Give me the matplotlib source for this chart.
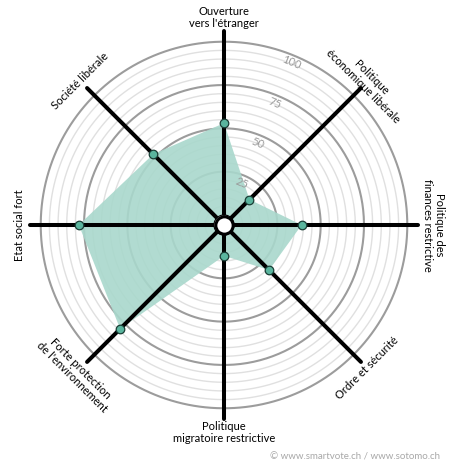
import numpy as np
import matplotlib
matplotlib.use("Agg")
import matplotlib.pyplot as plt

plt.rcParams['font.family'] = ['Lato', 'DejaVu Sans']

# axes of the smartspider, clockwise from the top
categories = [
    "Ouverture\nvers l'étranger",
    "Politique\néconomique libérale",
    "Politique des\nfinances restrictive",
    "Ordre et sécurité",
    "Politique\nmigratoire restrictive",
    "Forte protection\nde l'environnement",
    "Etat social fort",
    "Société libérale",
]
values = [53, 15, 39, 31, 12, 79, 78, 52]
tick_values = [25, 50, 75, 100]
tick_labels = ["25", "50", "75", "100"]

FILL = "#a9d8cc"
DOT = "#5ab59e"

n = len(categories)
theta = np.arange(n) * 2 * np.pi / n

fig = plt.figure(figsize=(4.5, 4.7), dpi=100)
# center at (224, 225) px, outer radius ~200 px
ax = fig.add_axes([0.052, 0.0945, 0.8916, 0.8536], projection='polar')
ax.set_theta_zero_location('N')
ax.set_theta_direction(-1)
ax.set_ylim(0, 110)
ax.set_rorigin(-5.8)
ax.grid(False)
ax.set_xticks([])
ax.set_yticks([])
ax.spines['polar'].set_visible(False)
ax.patch.set_alpha(0)

# rings
circ = np.linspace(0, 2 * np.pi, 400)
for v in range(5, 101, 5):
    if v in tick_values:
        ax.plot(circ, np.full_like(circ, v), color="#9c9c9c", lw=1.5, zorder=1)
    else:
        ax.plot(circ, np.full_like(circ, v), color="#e0e0e0", lw=1.0, zorder=1)

# filled profile
ax.fill(np.append(theta, theta[0]), values + values[:1], color=FILL, alpha=0.9,
        lw=0, zorder=2)

# spokes
for t in theta:
    ax.plot([t, t], [0, 106], color="black", lw=2.9, solid_capstyle='round', zorder=3)

# points
ax.scatter(theta, values, s=38, color=DOT, edgecolor="#1a3d35", linewidth=0.9, zorder=5)

# center hole
ax.plot([0.5], [0.5], 'o', transform=ax.transAxes, ms=12.5, mfc="white",
        mec="black", mew=2.2, zorder=6, clip_on=False)

# ring labels
for v, lab in zip(tick_values, tick_labels):
    ax.text(np.deg2rad(22.5), v - 4.5, lab, color="#999999", fontsize=8,
            rotation=-22.5, ha='center', va='center', rotation_mode='anchor', zorder=4)

# axis labels
label_r = [114, 111, 115, 111, 114, 115, 112, 112]
label_rot = [0, -45, -90, 45, 0, -45, 90, 45]
for t, lab, r, rot in zip(theta, categories, label_r, label_rot):
    ax.text(t, r, lab, fontsize=8, ha='center', va='center', rotation=rot,
            rotation_mode='anchor', linespacing=1.1, color="black")

fig.text(0.977, 0.028, "© www.smartvote.ch / www.sotomo.ch", fontsize=7,
         color="#a8a8a8", ha='right', va='center')

fig.savefig("out.png", dpi=100)
